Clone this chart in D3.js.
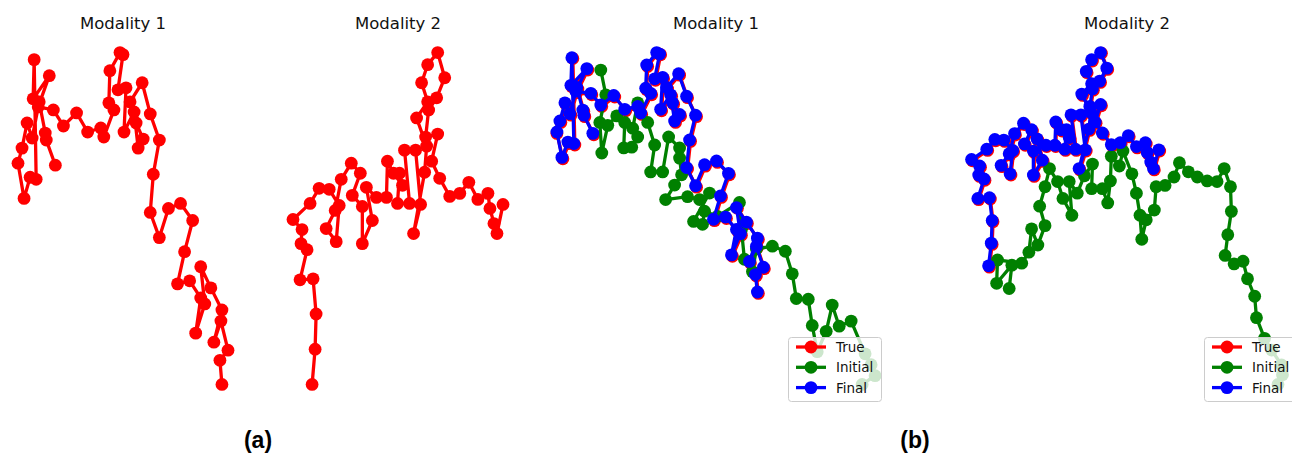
<!DOCTYPE html>
<html>
<head>
<meta charset="utf-8">
<script src="https://cdn.jsdelivr.net/npm/d3@7"></script>
<style>
  body { margin: 0; background: #fff; }
  svg { display: block; font-family: "DejaVu Sans", sans-serif; }
</style>
</head>
<body>
<div id="container"></div>
<script>
// Trajectories, as [x, y] pairs. Final sits almost on top of True.
const trueM1 = [
  [22.0,1.7],[21.8,4.1],[22.6,5.1],[21.9,8.0],[21.2,5.9],[22.0,9.1],[20.9,11.3],[19.9,13.4],
  [20.3,9.7],[19.4,6.8],[19.9,10.3],[18.8,12.0],[17.6,11.7],[18.3,14.9],[19.1,18.0],[17.9,19.7],
  [16.7,19.2],[15.8,16.3],[14.9,18.8],[15.2,22.6],[15.8,26.0],[14.9,28.6],[14.1,31.7],[12.9,29.8],
  [13.5,27.7],[14.2,26.1],[13.7,25.2],[13.3,28.8],[12.3,26.8],[12.5,31.2],[11.7,31.0],[12.2,34.5],
  [11.9,34.7],[10.9,32.9],[10.8,29.7],[11.3,29.0],[10.3,26.3],[10.0,27.2],[8.7,26.8],[7.6,28.7],
  [6.3,27.4],[5.3,29.0],[3.8,29.3],[4.9,32.4],[3.3,30.1],[3.4,34.0],[3.6,22.1],[3.0,22.3],
  [2.4,20.2],[1.8,23.7],[2.2,25.2],[2.7,27.7],[3.2,26.2],[3.9,29.8],[4.5,26.7],[4.6,26.0],[5.5,23.5]
];
const initialM1 = [
  [6.2,32.4],[6.7,29.0],[6.1,25.2],[6.3,21.0],[6.9,24.8],[7.8,26.1],[8.6,25.2],[8.5,21.7],
  [9.3,21.8],[9.9,23.2],[9.4,24.4],[9.9,27.9],[10.9,25.2],[11.6,22.1],[11.2,18.4],[12.4,18.4],
  [13.0,23.2],[14.1,21.7],[14.1,20.3],[14.3,18.0],[13.6,16.6],[12.7,14.6],[14.9,15.0],[16.1,14.6],
  [17.1,15.5],[15.5,11.6],[16.4,11.2],[16.6,13.0],[17.9,12.3],[20.1,14.2],[20.3,10.5],[20.6,6.4],
  [21.4,4.7],[21.8,7.8],[23.4,8.2],[24.7,7.5],[25.4,4.4],[25.8,1.0],[27.0,0.9],[27.4,-2.7],
  [27.9,-6.3],[28.8,-3.5],[29.4,0.1],[30.1,-2.8],[31.3,-2.1],[32.7,-6.6],[33.3,-8.1],[33.7,-9.6],
  [32.4,-10.8]
];
const finalM1 = [
  [21.9,1.9],[21.7,4.3],[22.5,5.3],[21.8,8.2],[21.1,6.1],[21.9,9.3],[20.8,11.5],[19.8,13.5],
  [20.2,9.9],[19.3,7.0],[19.8,10.5],[18.7,12.2],[17.5,11.9],[18.2,15.1],[19.0,18.2],[17.8,19.9],
  [16.6,19.4],[15.7,16.5],[14.8,19.0],[15.1,22.8],[15.7,26.2],[14.8,28.8],[14.0,31.9],[12.8,30.0],
  [13.4,27.9],[14.1,26.3],[13.6,25.4],[13.2,29.0],[12.2,27.0],[12.4,31.4],[11.6,31.2],[12.1,34.6],
  [11.8,34.8],[10.8,33.1],[10.7,29.9],[11.2,29.2],[10.2,26.5],[9.9,27.4],[8.6,27.0],[7.5,28.9],
  [6.2,27.6],[5.2,29.2],[3.7,29.5],[4.8,32.6],[3.2,30.3],[3.3,34.1],[3.5,22.3],[2.9,22.5],
  [2.3,20.4],[1.8,23.9],[2.1,25.4],[2.6,27.9],[3.1,26.4],[3.8,30.0],[4.4,26.9],[4.5,26.2],[5.4,23.7]
];

const trueM2 = [
  [31.3,1.7],[31.6,5.2],[31.7,8.7],[31.4,12.2],[30.1,12.1],[30.8,15.1],[30.2,15.7],[30.3,17.1],
  [29.4,18.1],[31.1,19.7],[32.0,21.2],[33.0,21.1],[34.0,19.5],[33.7,15.9],[32.7,17.2],[33.6,19.0],
  [34.2,22.1],[35.2,23.7],[36.1,22.7],[35.3,20.5],[36.3,19.4],[36.3,15.7],[37.3,18.0],[36.7,21.3],
  [37.7,20.3],[38.7,20.3],[38.8,23.9],[39.4,22.7],[40.3,21.5],[40.0,22.7],[39.8,19.7],[41.0,19.7],
  [40.5,25.0],[41.6,25.0],[42.1,19.6],[41.4,16.7],[42.5,22.8],[42.7,25.4],[41.7,28.2],[42.8,29.8],
  [42.2,31.7],[42.8,33.5],[43.8,34.7],[44.5,32.2],[43.7,30.2],[42.9,29.0],[42.6,26.3],[43.8,26.6],
  [43.2,23.9],[44.0,22.2],[45.0,20.4],[46.0,20.7],[46.9,21.8],[47.8,20.1],[48.8,20.7],[49.0,19.2],
  [49.4,17.7],[49.7,16.7],[50.3,19.6]
];
const initialM2 = [
  [33.5,-1.6],[33.8,2.0],[32.1,-0.8],[32.2,2.8],[34.9,2.3],[35.7,4.0],[36.0,7.6],[36.7,5.1],
  [37.5,8.1],[36.9,11.1],[37.5,14.1],[38.0,16.9],[38.9,14.9],[39.5,12.3],[40.5,9.7],[40.2,14.9],
  [41.1,13.1],[41.9,15.8],[42.8,17.6],[42.7,13.8],[43.9,13.8],[44.5,11.6],[44.8,15.0],[44.9,18.8],
  [45.8,17.3],[46.2,19.6],[47.2,16.1],[47.7,13.1],[48.1,9.7],[48.3,6.0],[48.8,9.0],[49.7,10.5],
  [49.9,14.1],[50.9,14.3],[51.9,15.6],[52.5,17.8],[53.5,16.4],[54.5,15.6],[55.6,15.0],[56.7,14.9],
  [57.5,16.9],[58.2,14.1],[58.3,10.3],[57.9,6.7],[57.6,3.5],[58.6,2.2],[59.6,2.6],[60.1,-0.1],
  [60.9,-2.8],[61.1,-6.1],[62.0,-9.3],[62.8,-11.1],[63.9,-13.4],[64.0,-14.9],[63.5,-16.4]
];
const finalM2 = [
  [31.2,1.9],[31.5,5.4],[31.6,8.9],[31.3,12.4],[30.0,12.3],[30.7,15.3],[30.1,15.9],[30.2,17.3],
  [29.3,18.3],[31.0,19.9],[31.9,21.4],[32.9,21.3],[33.9,19.7],[33.6,16.1],[32.6,17.4],[33.5,19.2],
  [34.1,22.3],[35.1,23.9],[36.0,22.9],[35.2,20.7],[36.2,19.6],[36.2,15.9],[37.2,18.2],[36.6,21.5],
  [37.6,20.5],[38.6,20.5],[38.7,24.1],[39.3,22.9],[40.2,21.7],[39.9,22.9],[39.7,19.9],[40.9,19.9],
  [40.4,25.2],[41.5,25.2],[42.0,19.8],[41.3,16.9],[42.4,23.0],[42.6,25.6],[41.6,28.4],[42.7,30.0],
  [42.1,31.9],[42.7,33.7],[43.7,34.8],[44.4,32.4],[43.6,30.4],[42.8,29.2],[42.5,26.5],[43.7,26.8],
  [43.1,24.1],[43.9,22.4],[44.9,20.6],[45.9,20.9],[46.8,22.0],[47.7,20.3],[48.7,20.9],[48.9,19.4],
  [49.3,17.9],[49.6,16.9],[50.2,19.8]
];

const titles = ["Modality 1", "Modality 2", "Modality 1", "Modality 2"];
const legendLabels = ["True", "Initial", "Final"];
const figureLabels = ["(a)", "(b)"];

const colors = { True: "#ff0000", Initial: "#008000", Final: "#0000ff" };

const W = 1292, H = 458;
const axTop = 36, axBottom = 401;
const lineWidth = 3.3, markerR = 6.4;

// axes boxes (left/right in px) and the series shown in each
const panels = [
  { left: 7.5, right: 238.5, title: titles[0], series: [{ name: "True", data: trueM1 }] },
  { left: 282.5, right: 513.5, title: titles[1], series: [{ name: "True", data: trueM2 }] },
  { left: 541, right: 891, title: titles[2], legendX: 788,
    series: [{ name: "True", data: trueM1 }, { name: "Initial", data: initialM1 }, { name: "Final", data: finalM1 }] },
  { left: 956, right: 1298, title: titles[3], legendX: 1204,
    series: [{ name: "True", data: trueM2 }, { name: "Initial", data: initialM2 }, { name: "Final", data: finalM2 }] }
];

const svg = d3.select("#container")
  .append("svg")
  .attr("width", W)
  .attr("height", H);

function padded(ext) {
  const p = (ext[1] - ext[0]) * 0.05;
  return [ext[0] - p, ext[1] + p];
}

function drawPanel(p) {
  const all = p.series.flatMap(s => s.data);
  const x = d3.scaleLinear().domain(padded(d3.extent(all, d => d[0]))).range([p.left, p.right]);
  const y = d3.scaleLinear().domain(padded(d3.extent(all, d => d[1]))).range([axBottom, axTop]);
  const line = d3.line().x(d => x(d[0])).y(d => y(d[1]));

  const g = svg.append("g");

  p.series.forEach(s => {
    const sg = g.append("g");
    sg.append("path")
      .datum(s.data)
      .attr("d", line)
      .attr("fill", "none")
      .attr("stroke", colors[s.name])
      .attr("stroke-width", lineWidth)
      .attr("stroke-linejoin", "round")
      .attr("stroke-linecap", "square");
    sg.selectAll("circle")
      .data(s.data)
      .join("circle")
      .attr("cx", d => x(d[0]))
      .attr("cy", d => y(d[1]))
      .attr("r", markerR)
      .attr("fill", colors[s.name]);
  });

  svg.append("text")
    .attr("x", (p.left + p.right) / 2)
    .attr("y", 29)
    .attr("text-anchor", "middle")
    .attr("font-size", 16.5)
    .attr("fill", "#111")
    .text(p.title);

  if (p.legendX !== undefined) drawLegend(p.legendX, 337);
}

function drawLegend(lx, ly) {
  const lg = svg.append("g").attr("transform", `translate(${lx},${ly})`);
  lg.append("rect")
    .attr("x", 0.5).attr("y", 0.5)
    .attr("width", 93).attr("height", 64)
    .attr("rx", 3)
    .attr("fill", "#fff")
    .attr("fill-opacity", 0.8)
    .attr("stroke", "#cccccc")
    .attr("stroke-width", 1);
  const rows = lg.selectAll("g.row")
    .data(legendLabels)
    .join("g")
    .attr("class", "row")
    .attr("transform", (d, i) => `translate(0,${10 + i * 20.3})`);
  rows.append("line")
    .attr("x1", 8).attr("x2", 38)
    .attr("stroke", d => colors[d])
    .attr("stroke-width", lineWidth);
  rows.append("circle")
    .attr("cx", 23).attr("r", markerR)
    .attr("fill", d => colors[d]);
  rows.append("text")
    .attr("x", 48).attr("y", 5)
    .attr("font-size", 13.5)
    .attr("fill", "#111")
    .text(d => d);
}

panels.forEach(drawPanel);

// figure labels
svg.selectAll("text.figlabel")
  .data(figureLabels)
  .join("text")
  .attr("class", "figlabel")
  .attr("x", (d, i) => [258, 915][i])
  .attr("y", 448)
  .attr("text-anchor", "middle")
  .attr("font-family", "'Liberation Sans', Arial, sans-serif")
  .attr("font-weight", "bold")
  .attr("font-size", 23)
  .attr("fill", "#000")
  .text(d => d);
</script>
</body>
</html>
